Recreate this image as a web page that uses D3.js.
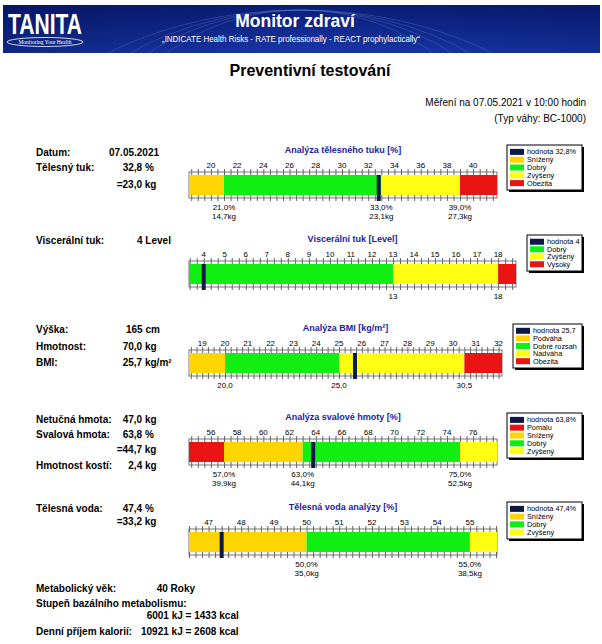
<!DOCTYPE html>
<html><head><meta charset="utf-8">
<script src="https://cdn.jsdelivr.net/npm/d3@7"></script>
<style>
body{margin:0;background:#fff}
svg{display:block;font-family:Arial,"Liberation Sans",sans-serif}
.lbl{font-size:10px;font-weight:bold;fill:#000}
.ctitle{font-size:9px;font-weight:bold;fill:#1c1c9c}
.tl{font-size:8px;fill:#000}
.leg{font-size:7.3px;fill:#000}
</style>
</head><body><svg id="c" width="602" height="644"></svg>
<script>
// ---------------- data ----------------
const reportTitle = "Preventivní testování";
const measuredAt = "Měření na 07.05.2021 v 10:00 hodin";
const scaleType = "(Typ váhy: BC-1000)";

const fatBounds = [18.33, 21, 33, 39, 41.82];
const fatZones = ["Snížený", "Dobrý", "Zvýšený", "Obezita"];
const fatTicks = [20, 22, 24, 26, 28, 30, 32, 34, 36, 38, 40];
const fatValue = 32.8;
const fatMarks = [21, 33, 39];
const fatMarkKg = [14.7, 23.1, 27.3];

const viscBounds = [3.3, 13, 18, 18.85];
const viscZones = ["Dobrý", "Zvýšený", "Vysoký"];
const viscTicks = [4, 5, 6, 7, 8, 9, 10, 11, 12, 13, 14, 15, 16, 17, 18];
const viscValue = 4;
const viscMarks = [13, 18];

const bmiBounds = [18.42, 20, 25, 30.5, 32.15];
const bmiZones = ["Podváha", "Dobré rozsah", "Nadváha", "Obezita"];
const bmiTicks = [19, 20, 21, 22, 23, 24, 25, 26, 27, 28, 29, 30, 31, 32];
const bmiValue = 25.7;
const bmiMarks = [20, 25, 30.5];

const muscleBounds = [54.33, 57, 63, 75, 77.82];
const muscleZones = ["Pomalu", "Snížený", "Dobrý", "Zvýšený"];
const muscleTicks = [56, 58, 60, 62, 64, 66, 68, 70, 72, 74, 76];
const muscleValue = 63.8;
const muscleMarks = [57, 63, 75];
const muscleMarkKg = [39.9, 44.1, 52.5];

const waterBounds = [46.4, 50, 55, 55.83];
const waterZones = ["Snížený", "Dobrý", "Zvýšený"];
const waterTicks = [47, 48, 49, 50, 51, 52, 53, 54, 55];
const waterValue = 47.4;
const waterMarks = [50, 55];
const waterMarkKg = [35.0, 38.5];

const infoLabels = ["Datum:", "Tělesný tuk:", "", "Viscerální tuk:", "Výška:", "Hmotnost:", "BMI:",
  "Netučná hmota:", "Svalová hmota:", "", "Hmotnost kostí:", "Tělesná voda:", "", "Metabolický věk:",
  "Stupeň bazálního metabolismu:", "", "Denní příjem kalorií:"];
const infoValues = ["07.05.2021", "32,8 %", "=23,0 kg", "4 Level", "165 cm", "70,0 kg", "25,7 kg/m²",
  "47,0 kg", "63,8 %", "=44,7 kg", "2,4 kg", "47,4 %", "=33,2 kg", "40 Roky",
  "", "6001 kJ = 1433 kcal", "10921 kJ = 2608 kcal"];

// ---------------- styles / layout ----------------
const zoneColor = {
  "Snížený": "#ffd500", "Podváha": "#ffd500",
  "Dobrý": "#11ee11", "Dobré rozsah": "#11ee11",
  "Zvýšený": "#ffff14", "Nadváha": "#ffff14",
  "Obezita": "#ea1414", "Vysoký": "#ea1414", "Pomalu": "#ea1414"
};
const markerColor = "#0c1a45";
const fmt1 = v => d3.format(".1f")(v).replace(".", ",");

const svg = d3.select("#c");

// ---- header banner ----
const defs = svg.append("defs");
const gr = defs.append("linearGradient").attr("id", "bg").attr("x1", 0).attr("y1", 0).attr("x2", 0).attr("y2", 1);
gr.append("stop").attr("offset", 0).attr("stop-color", "#0a1c78");
gr.append("stop").attr("offset", 1).attr("stop-color", "#1838a8");
const gr2 = defs.append("linearGradient").attr("id", "bg2").attr("x1", 0).attr("y1", 0).attr("x2", 1).attr("y2", 0);
gr2.append("stop").attr("offset", 0).attr("stop-color", "#000a40").attr("stop-opacity", 0.35);
gr2.append("stop").attr("offset", 0.5).attr("stop-color", "#000a40").attr("stop-opacity", 0);
gr2.append("stop").attr("offset", 1).attr("stop-color", "#000a40").attr("stop-opacity", 0.2);
defs.append("clipPath").attr("id", "hc").append("rect").attr("x", 3).attr("y", 5).attr("width", 597).attr("height", 48);
const hdr = svg.append("g").attr("clip-path", "url(#hc)");
hdr.append("rect").attr("x", 3).attr("y", 5).attr("width", 597).attr("height", 48).attr("fill", "url(#bg)");
hdr.append("rect").attr("x", 3).attr("y", 5).attr("width", 597).attr("height", 48).attr("fill", "url(#bg2)");
[[300, 180, 200], [300, 200, 240], [300, 220, 280], [300, 240, 330], [300, -150, 230], [300, -170, 270]].forEach(a => {
  hdr.append("ellipse").attr("cx", a[0]).attr("cy", a[1]).attr("rx", a[2]).attr("ry", Math.abs(a[1]) - 10)
    .attr("fill", "none").attr("stroke", "#7f9be0").attr("stroke-opacity", 0.35).attr("stroke-width", 0.7);
});
hdr.append("text").attr("x", 8).attr("y", 34).attr("fill", "#fff").attr("font-size", 29).attr("font-weight", 900)
  .attr("textLength", 74).attr("lengthAdjust", "spacingAndGlyphs").text("TANITA");
hdr.append("ellipse").attr("cx", 45).attr("cy", 42).attr("rx", 38).attr("ry", 4.5).attr("fill", "none").attr("stroke", "#fff").attr("stroke-width", 0.8);
hdr.append("text").attr("x", 45).attr("y", 44).attr("text-anchor", "middle").attr("fill", "#fff").attr("font-size", 5.5)
  .attr("font-family", "Liberation Serif, serif").text("Monitoring Your Health");
hdr.append("text").attr("x", 295).attr("y", 27).attr("text-anchor", "middle").attr("fill", "#fff").attr("font-size", 17.5)
  .attr("font-weight", "bold").text("Monitor zdraví");
hdr.append("text").attr("x", 291).attr("y", 42).attr("text-anchor", "middle").attr("fill", "#fff").attr("font-size", 8.3)
  .attr("textLength", 258).attr("lengthAdjust", "spacingAndGlyphs")
  .text("„INDICATE Health Risks - RATE professionally - REACT prophylactically“");

// ---- titles ----
svg.append("text").attr("x", 310).attr("y", 76).attr("text-anchor", "middle").attr("font-size", 16).attr("font-weight", "bold").text(reportTitle);
svg.append("text").attr("x", 586).attr("y", 106).attr("text-anchor", "end").attr("font-size", 10).text(measuredAt);
svg.append("text").attr("x", 586).attr("y", 122).attr("text-anchor", "end").attr("font-size", 10).text(scaleType);

// ---- left info column ----
const infoY = [156, 171, 188, 244, 333, 350, 366, 423, 438, 453, 469, 512, 525, 592, 607, 619, 635];
const infoVX = [109, 122.7, 116.7, 137, 126, 122.7, 122.7, 122.7, 122.7, 116.7, 128.3, 122.7, 116.7, 156.7, 0, 146.7, 141];
infoLabels.forEach((t, i) => {
  if (t) svg.append("text").attr("class", "lbl").attr("x", 36).attr("y", infoY[i]).text(t);
  if (infoValues[i]) svg.append("text").attr("class", "lbl").attr("x", infoVX[i]).attr("y", infoY[i]).text(infoValues[i]);
});

// ---- bar charts ----
const charts = [
  { title: "Analýza tělesného tuku [%]", bounds: fatBounds, zones: fatZones, ticks: fatTicks, value: fatValue,
    marks: fatMarks, kg: fatMarkKg, valueLabel: "hodnota " + fmt1(fatValue) + "%", markFmt: v => fmt1(v) + "%",
    x1: 497, top: 172, minor: 0.5, legend: [507, 145, 75, 45] },
  { title: "Viscerální tuk [Level]", bounds: viscBounds, zones: viscZones, ticks: viscTicks, value: viscValue,
    marks: viscMarks, kg: null, valueLabel: "hodnota " + viscValue, markFmt: v => String(v),
    x1: 516, top: 261, minor: 1 / 3, legend: [527, 235, 55, 36] },
  { title: "Analýza BMI [kg/m²]", bounds: bmiBounds, zones: bmiZones, ticks: bmiTicks, value: bmiValue,
    marks: bmiMarks, kg: null, valueLabel: "hodnota " + fmt1(bmiValue), markFmt: v => fmt1(v),
    x1: 502, top: 350, minor: 0.25, legend: [513, 324, 69, 44] },
  { title: "Analýza svalové hmoty [%]", bounds: muscleBounds, zones: muscleZones, ticks: muscleTicks, value: muscleValue,
    marks: muscleMarks, kg: muscleMarkKg, valueLabel: "hodnota " + fmt1(muscleValue) + "%", markFmt: v => fmt1(v) + "%",
    x1: 497, top: 439, minor: 0.5, legend: [507, 413, 75, 45] },
  { title: "Tělesná voda analýzy [%]", bounds: waterBounds, zones: waterZones, ticks: waterTicks, value: waterValue,
    marks: waterMarks, kg: waterMarkKg, valueLabel: "hodnota " + fmt1(waterValue) + "%", markFmt: v => fmt1(v) + "%",
    x1: 497, top: 529, minor: 0.2, legend: [507, 502, 75, 37] }
];

const x0 = 189;
charts.forEach(cfg => {
  const g = svg.append("g");
  const lo = cfg.bounds[0], hi = cfg.bounds[cfg.bounds.length - 1];
  const x = d3.scaleLinear().domain([lo, hi]).range([x0, cfg.x1]);
  const T = cfg.top;
  g.append("text").attr("class", "ctitle").attr("x", (x0 + cfg.x1) / 2).attr("y", T - 19).attr("text-anchor", "middle").text(cfg.title);
  g.append("rect").attr("x", x0).attr("y", T).attr("width", cfg.x1 - x0).attr("height", 26)
    .attr("fill", "#fff").attr("stroke", "#777").attr("stroke-width", 1);
  const zones = cfg.zones.map((z, i) => ({ name: z, a: cfg.bounds[i], b: cfg.bounds[i + 1] }));
  g.selectAll(".zone").data(zones).join("rect").attr("class", "zone")
    .attr("x", d => x(d.a)).attr("width", d => x(d.b) - x(d.a))
    .attr("y", T + 3).attr("height", 20).attr("fill", d => zoneColor[d.name]);
  // minor ticks
  const minorVals = d3.range(Math.ceil(lo / cfg.minor - 1e-6), Math.floor(hi / cfg.minor + 1e-6) + 1).map(k => k * cfg.minor);
  const ax = g.append("g").attr("transform", `translate(0,${T + 3})`)
    .call(d3.axisTop(x).tickValues(minorVals).tickSize(6).tickSizeOuter(0).tickFormat(""));
  const bx = g.append("g").attr("transform", `translate(0,${T + 23})`)
    .call(d3.axisBottom(x).tickValues(minorVals).tickSize(6).tickSizeOuter(0).tickFormat(""));
  [ax, bx].forEach(a => { a.select(".domain").remove(); a.selectAll("line").attr("stroke", "#666"); });
  // tick labels
  g.selectAll(".tk").data(cfg.ticks).join("text").attr("class", "tl")
    .attr("x", d => x(d)).attr("y", T - 4).attr("text-anchor", "middle").text(d => d);
  // marker
  g.append("rect").attr("x", x(cfg.value) - 2).attr("width", 4).attr("y", T + 3).attr("height", 26).attr("fill", markerColor);
  // boundary labels
  cfg.marks.forEach((m, i) => {
    g.append("text").attr("class", "tl").attr("x", x(m)).attr("y", T + 38).attr("text-anchor", "middle").text(cfg.markFmt(m));
    if (cfg.kg) g.append("text").attr("class", "tl").attr("x", x(m)).attr("y", T + 47).attr("text-anchor", "middle").text(fmt1(cfg.kg[i]) + "kg");
  });
  // legend
  const [lx, ly, lw, lh] = cfg.legend;
  g.append("rect").attr("x", lx + 2).attr("y", ly + 2).attr("width", lw).attr("height", lh).attr("fill", "#000");
  g.append("rect").attr("x", lx).attr("y", ly).attr("width", lw).attr("height", lh).attr("fill", "#fff").attr("stroke", "#000").attr("stroke-width", 1);
  const items = [{ t: cfg.valueLabel, c: markerColor }].concat(cfg.zones.map(z => ({ t: z, c: zoneColor[z] })));
  const step = (lh - 6) / items.length;
  items.forEach((it, i) => {
    const cy = ly + 3 + step * (i + 0.5);
    g.append("rect").attr("x", lx + 3).attr("y", cy - 3).attr("width", 14).attr("height", 6).attr("fill", it.c);
    g.append("text").attr("class", "leg").attr("x", lx + 20).attr("y", cy + 2.5).text(it.t);
  });
});
</script>
</body></html>
